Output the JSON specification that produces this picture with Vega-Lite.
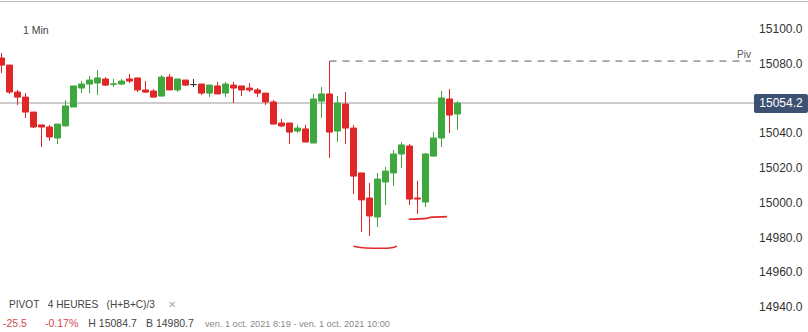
{
  "$schema": "https://vega.github.io/schema/vega-lite/v6.json",
  "width": 808,
  "height": 332,
  "padding": 0,
  "autosize": {"type": "none"},
  "background": "white",
  "config": {"view": {"stroke": null}, "font": "Liberation Sans"},
  "data": {"values": [{}]},
  "datasets": {
    "candles": [
      {"t": 1, "open": 15080.1, "high": 15082.9, "low": 15071.4, "close": 15076.0},
      {"t": 2, "open": 15076.0, "high": 15076.0, "low": 15059.4, "close": 15060.5},
      {"t": 3, "open": 15060.5, "high": 15061.7, "low": 15053.1, "close": 15057.6},
      {"t": 4, "open": 15057.6, "high": 15059.9, "low": 15045.6, "close": 15049.0},
      {"t": 5, "open": 15049.0, "high": 15049.0, "low": 15039.8, "close": 15040.4},
      {"t": 6, "open": 15041.6, "high": 15041.6, "low": 15028.9, "close": 15040.4},
      {"t": 7, "open": 15040.4, "high": 15041.6, "low": 15032.4, "close": 15034.7},
      {"t": 8, "open": 15034.1, "high": 15042.1, "low": 15030.6, "close": 15042.1},
      {"t": 9, "open": 15041.0, "high": 15055.9, "low": 15041.0, "close": 15052.5},
      {"t": 10, "open": 15051.9, "high": 15064.0, "low": 15051.9, "close": 15064.0},
      {"t": 11, "open": 15062.8, "high": 15066.8, "low": 15059.9, "close": 15065.1},
      {"t": 12, "open": 15065.1, "high": 15069.7, "low": 15059.9, "close": 15067.4},
      {"t": 13, "open": 15065.7, "high": 15073.2, "low": 15058.8, "close": 15068.6},
      {"t": 14, "open": 15068.0, "high": 15069.1, "low": 15064.0, "close": 15064.5},
      {"t": 15, "open": 15064.9, "high": 15068.0, "low": 15063.4, "close": 15065.2},
      {"t": 16, "open": 15065.1, "high": 15068.0, "low": 15064.5, "close": 15066.8},
      {"t": 17, "open": 15068.0, "high": 15070.9, "low": 15065.7, "close": 15066.8},
      {"t": 18, "open": 15068.6, "high": 15068.6, "low": 15060.5, "close": 15061.7},
      {"t": 19, "open": 15061.7, "high": 15066.8, "low": 15059.9, "close": 15060.5},
      {"t": 20, "open": 15061.1, "high": 15062.2, "low": 15057.6, "close": 15057.6},
      {"t": 21, "open": 15058.2, "high": 15070.3, "low": 15058.2, "close": 15069.1},
      {"t": 22, "open": 15069.1, "high": 15070.9, "low": 15061.7, "close": 15061.7},
      {"t": 23, "open": 15061.7, "high": 15068.0, "low": 15060.5, "close": 15068.0},
      {"t": 24, "open": 15067.4, "high": 15067.4, "low": 15064.0, "close": 15064.5},
      {"t": 25, "open": 15064.8, "high": 15068.0, "low": 15063.4, "close": 15064.8},
      {"t": 26, "open": 15065.1, "high": 15065.1, "low": 15058.8, "close": 15059.9},
      {"t": 27, "open": 15059.9, "high": 15064.5, "low": 15057.6, "close": 15064.5},
      {"t": 28, "open": 15064.0, "high": 15066.3, "low": 15059.4, "close": 15059.4},
      {"t": 29, "open": 15059.9, "high": 15066.3, "low": 15057.6, "close": 15065.1},
      {"t": 30, "open": 15064.5, "high": 15066.3, "low": 15054.2, "close": 15062.8},
      {"t": 31, "open": 15064.0, "high": 15064.0, "low": 15058.2, "close": 15061.7},
      {"t": 32, "open": 15062.8, "high": 15065.7, "low": 15060.5, "close": 15061.7},
      {"t": 33, "open": 15061.7, "high": 15062.8, "low": 15057.6, "close": 15059.9},
      {"t": 34, "open": 15059.9, "high": 15059.9, "low": 15053.1, "close": 15054.8},
      {"t": 35, "open": 15054.8, "high": 15055.9, "low": 15042.1, "close": 15042.1},
      {"t": 36, "open": 15042.7, "high": 15045.0, "low": 15040.4, "close": 15041.0},
      {"t": 37, "open": 15042.7, "high": 15042.7, "low": 15030.6, "close": 15037.5},
      {"t": 38, "open": 15038.1, "high": 15041.6, "low": 15037.0, "close": 15039.8},
      {"t": 39, "open": 15039.3, "high": 15041.6, "low": 15031.8, "close": 15031.8},
      {"t": 40, "open": 15031.2, "high": 15059.4, "low": 15031.2, "close": 15056.5},
      {"t": 41, "open": 15055.3, "high": 15063.4, "low": 15045.6, "close": 15059.4},
      {"t": 42, "open": 15059.4, "high": 15078.3, "low": 15022.6, "close": 15037.5},
      {"t": 43, "open": 15038.1, "high": 15058.2, "low": 15031.8, "close": 15054.2},
      {"t": 44, "open": 15053.6, "high": 15060.5, "low": 15030.6, "close": 15039.8},
      {"t": 45, "open": 15039.8, "high": 15041.6, "low": 15001.9, "close": 15012.2},
      {"t": 46, "open": 15014.0, "high": 15014.0, "low": 14980.1, "close": 14998.5},
      {"t": 47, "open": 14999.6, "high": 15008.2, "low": 14977.8, "close": 14989.3},
      {"t": 48, "open": 14988.7, "high": 15014.0, "low": 14982.9, "close": 15010.5},
      {"t": 49, "open": 15008.8, "high": 15017.4, "low": 14995.6, "close": 15015.1},
      {"t": 50, "open": 15014.0, "high": 15027.2, "low": 15006.5, "close": 15024.9},
      {"t": 51, "open": 15024.9, "high": 15031.8, "low": 15016.8, "close": 15030.1},
      {"t": 52, "open": 15029.5, "high": 15030.6, "low": 14995.6, "close": 14999.0},
      {"t": 53, "open": 14999.6, "high": 15009.4, "low": 14990.4, "close": 14999.0},
      {"t": 54, "open": 14997.3, "high": 15025.5, "low": 14994.4, "close": 15024.9},
      {"t": 55, "open": 15023.7, "high": 15037.5, "low": 15023.7, "close": 15034.1},
      {"t": 56, "open": 15034.1, "high": 15061.1, "low": 15028.9, "close": 15057.1},
      {"t": 57, "open": 15056.5, "high": 15062.2, "low": 15036.9, "close": 15047.3},
      {"t": 58, "open": 15047.9, "high": 15055.3, "low": 15038.7, "close": 15054.2}
    ],
    "scribbles": [
      {"g": "a", "t": 45.0, "price": 14971.9},
      {"g": "a", "t": 46.5, "price": 14970.9},
      {"g": "a", "t": 48.4, "price": 14970.7},
      {"g": "a", "t": 50.0, "price": 14971.2},
      {"g": "a", "t": 50.4, "price": 14972.0},
      {"g": "b", "t": 51.9, "price": 14987.4},
      {"g": "b", "t": 54.2, "price": 14987.9},
      {"g": "b", "t": 54.6, "price": 14988.5},
      {"g": "b", "t": 56.7, "price": 14988.9}
    ]
  },
  "layer": [
    {
      "mark": {"type": "rule", "stroke": "#b4b4b4", "strokeWidth": 1},
      "encoding": {
        "y": {"datum": 15112.5, "type": "quantitative", "scale": {"domain": [14922.6, 15113.4], "nice": false, "zero": false, "padding": 0},
          "axis": {"orient": "right", "values": [14940, 14960, 14980, 15000, 15020, 15040, 15080, 15100], "format": ".1f", "ticks": false, "tickSize": 0, "domain": false, "grid": false, "labelAlign": "right", "labelPadding": -6, "labelOffset": 5, "labelFontSize": 12, "labelColor": "#333333", "labelFont": "Liberation Sans", "labelBaseline": "middle", "labelFlush": false, "labelOverlap": false, "title": null}}
      }
    },
    {
      "mark": {"type": "rule", "stroke": "#9a9a9a", "strokeWidth": 1},
      "encoding": {
        "x": {"datum": 0.8125, "type": "quantitative", "scale": {"domain": [0.8125, 101.8125], "nice": false, "zero": false, "padding": 0}, "axis": null},
        "x2": {"datum": 95.06},
        "y": {"datum": 15054.2, "type": "quantitative"}
      }
    },
    {
      "mark": {"type": "rule", "stroke": "#5a5a5a", "strokeWidth": 1, "strokeDash": [7, 6]},
      "encoding": {
        "x": {"datum": 42, "type": "quantitative"},
        "x2": {"datum": 94.69},
        "y": {"datum": 15078.3, "type": "quantitative"}
      }
    },
    {
      "mark": {"type": "text", "text": "Piv", "align": "left", "baseline": "alphabetic", "dy": -3, "fontSize": 10, "color": "#555555"},
      "encoding": {
        "x": {"datum": 92.94, "type": "quantitative"},
        "y": {"datum": 15078.3, "type": "quantitative"}
      }
    },
    {
      "data": {"name": "candles"},
      "mark": {"type": "rule", "strokeWidth": 1},
      "encoding": {
        "x": {"field": "t", "type": "quantitative"},
        "y": {"field": "low", "type": "quantitative"},
        "y2": {"field": "high"},
        "color": {"condition": [{"test": "datum.close > datum.open", "value": "#3ea83e"}, {"test": "datum.close < datum.open", "value": "#e02626"}], "value": "#333333"}
      }
    },
    {
      "data": {"name": "candles"},
      "mark": {"type": "bar", "width": 6, "strokeWidth": 1, "orient": "vertical"},
      "encoding": {
        "x": {"field": "t", "type": "quantitative"},
        "y": {"field": "open", "type": "quantitative"},
        "y2": {"field": "close"},
        "fill": {"condition": [{"test": "datum.close > datum.open", "value": "#3ea83e"}, {"test": "datum.close < datum.open", "value": "#e02626"}], "value": "#333333"},
        "stroke": {"condition": [{"test": "datum.close > datum.open", "value": "#3ea83e"}, {"test": "datum.close < datum.open", "value": "#e02626"}], "value": "#333333"}
      }
    },
    {
      "data": {"name": "scribbles"},
      "mark": {"type": "line", "stroke": "#e02a2a", "strokeWidth": 1.6, "interpolate": "monotone"},
      "encoding": {
        "x": {"field": "t", "type": "quantitative"},
        "y": {"field": "price", "type": "quantitative"},
        "detail": {"field": "g"},
        "order": {"field": "t"}
      }
    },
    {
      "mark": {"type": "rect", "fill": "#3d5272", "cornerRadius": 2},
      "encoding": {
        "x": {"datum": 95.06, "type": "quantitative"},
        "x2": {"datum": 101.81},
        "y": {"datum": 15048.45, "type": "quantitative"},
        "y2": {"datum": 15059.37}
      }
    },
    {
      "mark": {"type": "text", "text": "15054.2", "align": "center", "baseline": "middle", "fontSize": 12, "color": "#ffffff"},
      "encoding": {
        "x": {"datum": 98.44, "type": "quantitative"},
        "y": {"datum": 15054.2, "type": "quantitative"}
      }
    },
    {
      "mark": {"type": "text", "text": "1 Min", "align": "left", "baseline": "middle", "fontSize": 10.5, "color": "#444444"},
      "encoding": {
        "x": {"datum": 3.69, "type": "quantitative"},
        "y": {"datum": 15095.6, "type": "quantitative"}
      }
    },
    {
      "mark": {"type": "text", "text": "PIVOT\u00a0\u00a0\u00a04 HEURES\u00a0\u00a0\u00a0(H+B+C)/3", "align": "left", "baseline": "middle", "fontSize": 10.1, "color": "#444444"},
      "encoding": {
        "x": {"datum": 1.94, "type": "quantitative"},
        "y": {"datum": 14938.3, "type": "quantitative"}
      }
    },
    {
      "mark": {"type": "text", "text": "✕", "align": "left", "baseline": "middle", "fontSize": 10, "color": "#aaaaaa"},
      "encoding": {
        "x": {"datum": 21.81, "type": "quantitative"},
        "y": {"datum": 14938.3, "type": "quantitative"}
      }
    },
    {
      "mark": {"type": "text", "text": "-25.5", "align": "left", "baseline": "middle", "fontSize": 10.5, "color": "#d4494a"},
      "encoding": {
        "x": {"datum": 1.19, "type": "quantitative"},
        "y": {"datum": 14927.0, "type": "quantitative"}
      }
    },
    {
      "mark": {"type": "text", "text": "-0.17%", "align": "left", "baseline": "middle", "fontSize": 10.5, "color": "#d4494a"},
      "encoding": {
        "x": {"datum": 6.44, "type": "quantitative"},
        "y": {"datum": 14927.0, "type": "quantitative"}
      }
    },
    {
      "mark": {"type": "text", "text": "H 15084.7", "align": "left", "baseline": "middle", "fontSize": 10.5, "color": "#444444"},
      "encoding": {
        "x": {"datum": 11.85, "type": "quantitative"},
        "y": {"datum": 14927.0, "type": "quantitative"}
      }
    },
    {
      "mark": {"type": "text", "text": "B 14980.7", "align": "left", "baseline": "middle", "fontSize": 10.5, "color": "#444444"},
      "encoding": {
        "x": {"datum": 19.06, "type": "quantitative"},
        "y": {"datum": 14927.0, "type": "quantitative"}
      }
    },
    {
      "mark": {"type": "text", "text": "ven. 1 oct. 2021 8:19 - ven. 1 oct. 2021 10:00", "align": "left", "baseline": "middle", "fontSize": 9.2, "color": "#888888"},
      "encoding": {
        "x": {"datum": 26.44, "type": "quantitative"},
        "y": {"datum": 14927.0, "type": "quantitative"}
      }
    }
  ]
}
